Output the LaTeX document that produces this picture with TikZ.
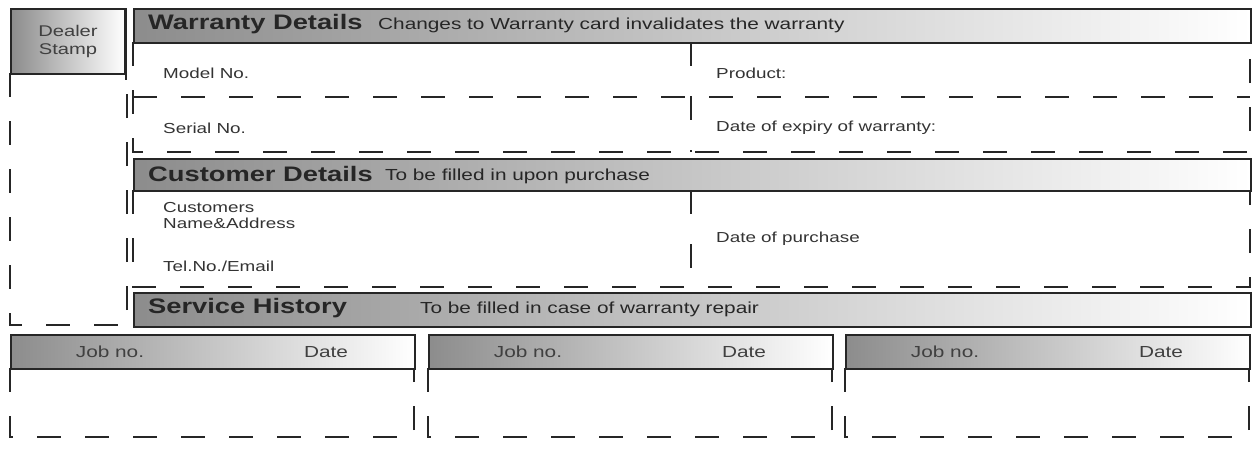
\documentclass[tikz,border=0pt]{standalone}
\usepackage{fontspec}
\setmainfont[FakeStretch=1.3]{Liberation Sans}
\begin{document}
\begin{tikzpicture}[x=1pt,y=-1pt,
 hdr/.style={draw=black!85,line width=2pt,left color=black!45,right color=white},
 dbox/.style={draw=black!85,line width=2.5pt,dash pattern=on 24pt off 24pt},
 sep/.style={draw=black!85,line width=2.5pt,dash pattern=on 24pt off 30pt},
 lab/.style={font=\fontsize{14.5}{16}\selectfont,text=black!80,anchor=west,inner sep=0pt},
 ttl/.style={font=\fontsize{21}{23}\selectfont\bfseries,text=black!85,anchor=west,inner sep=0pt},
 sub/.style={font=\fontsize{16}{18}\selectfont,text=black!85,anchor=west,inner sep=0pt},
 jl/.style={font=\fontsize{16}{18}\selectfont,text=black!75,inner sep=0pt}]
\useasboundingbox (0,0) rectangle (1260,451);
% dealer
\draw[dbox] (10,73) rectangle (127,325);
\node[hdr,minimum width=114pt,minimum height=65pt,anchor=north west,inner sep=0pt] (dealer) at (10,8) {};
\node[font=\fontsize{15.5}{17.5}\selectfont,text=black!75,align=center] (dl) at (dealer.center) {Dealer\\Stamp};
\draw[line width=2.5pt,black!85] (126,8) -- (126,80);
% warranty
\draw[dbox] (133,42) rectangle (1250,152);
\draw[dbox] (133,97) -- (1250,97);
\draw[sep] (691,42) -- (691,152);
\node[hdr,minimum width=1117pt,minimum height=34pt,anchor=north west,inner sep=0pt] (wh) at (133,8) {};
\node[ttl] (wt) at (148,24) {Warranty Details};
\node[sub] (ws) at (378,25) {Changes to Warranty card invalidates the warranty};
\node[lab] (m) at (163,73) {Model No.};
\node[lab] (p) at (716,73) {Product:};
\node[lab] (s) at (163,128) {Serial No.};
\node[lab] (e) at (716,128) {Date of expiry of warranty:};
% customer
\draw[dbox] (133,190) rectangle (1250,287);
\draw[sep] (691,190) -- (691,287);
\node[hdr,minimum width=1117pt,minimum height=32pt,anchor=north west,inner sep=0pt] (ch) at (133,158) {};
\node[ttl] (ct) at (148,174) {Customer Details};
\node[sub] (cs) at (385,176) {To be filled in upon purchase};
\node[lab,align=left,anchor=north west] (cn) at (163,202) {Customers\\Name\&Address};
\node[lab] (tel) at (163,266) {Tel.No./Email};
\node[lab] (dp) at (716,239) {Date of purchase};
% service
\node[hdr,minimum width=1117pt,minimum height=34pt,anchor=north west,inner sep=0pt] (sh) at (133,292) {};
\node[ttl] (st) at (148,308) {Service History};
\node[sub] (ss) at (420,309) {To be filled in case of warranty repair};
% job boxes
\foreach \x/\n in {10/a,428/b,845/c}{
  \draw[dbox] (\x,368) rectangle (\x+404,437);
  \node[hdr,minimum width=404pt,minimum height=34pt,anchor=north west,inner sep=0pt] (j\n) at (\x,334) {};
  \node[jl] at (\x+100,352) {Job no.};
  \node[jl] at (\x+316,352) {Date};
}
\end{tikzpicture}
\end{document}
